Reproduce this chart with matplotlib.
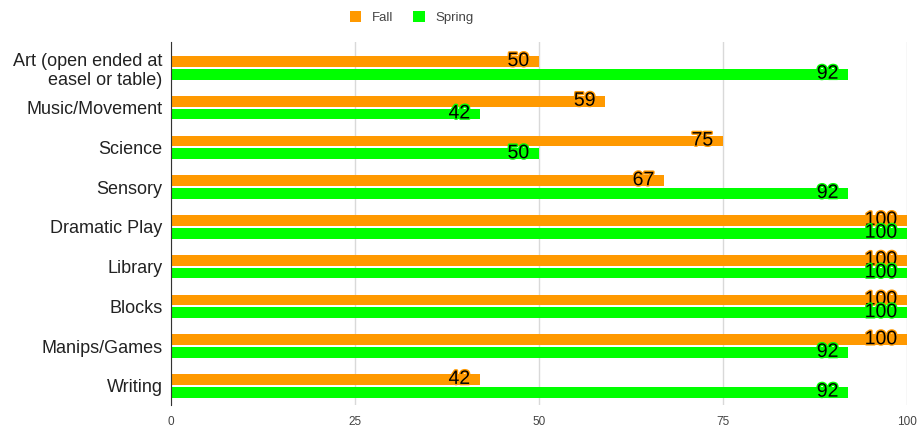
import matplotlib.pyplot as plt
import matplotlib.patheffects as pe
import numpy as np

plt.rcParams["font.family"] = ["Liberation Sans", "DejaVu Sans"]

CATEGORIES = ["Art (open ended at\neasel or table)", "Music/Movement", "Science",
              "Sensory", "Dramatic Play", "Library", "Blocks", "Manips/Games",
              "Writing"]
FALL = [50, 59, 75, 67, 100, 100, 100, 100, 42]
SPRING = [92, 42, 50, 92, 100, 100, 100, 92, 92]
FALL_COLOR = "#ff9900"
SPRING_COLOR = "#00ff00"

fig = plt.figure(figsize=(9.19, 4.33), dpi=100)
ax = fig.add_axes([0.186, 0.065, 0.801, 0.838])

y = np.arange(len(CATEGORIES))
off = 0.16
h = 0.27
bars_f = ax.barh(y - off, FALL, height=h, color=FALL_COLOR, label="Fall", zorder=2)
bars_s = ax.barh(y + off, SPRING, height=h, color=SPRING_COLOR, label="Spring", zorder=2)

# value labels sit inside the bar end, with a halo in the bar colour
for bars, vals, col in [(bars_f, FALL, FALL_COLOR), (bars_s, SPRING, SPRING_COLOR)]:
    for b, v in zip(bars, vals):
        ax.annotate(str(v), (v, b.get_y() + b.get_height() / 2),
                    xytext=(-7, 0), textcoords="offset points",
                    ha="right", va="center", fontsize=14, color="black", zorder=3,
                    path_effects=[pe.withStroke(linewidth=2, foreground=col)])

ax.set_xlim(0, 100)
ax.set_ylim(8.48, -0.65)
ax.set_yticks(y)
ax.set_yticklabels(CATEGORIES, fontsize=13, color="#222222")
ax.set_xticks([0, 25, 50, 75, 100])
ax.tick_params(axis="x", labelsize=8.5, colors="#444444", length=0, pad=8)
ax.tick_params(axis="y", length=0, pad=6)
ax.grid(axis="x", color="#d9d9d9", linewidth=1, zorder=0)
for s in ["top", "right", "bottom"]:
    ax.spines[s].set_visible(False)
ax.spines["left"].set_color("#333333")
ax.spines["left"].set_zorder(4)

fig.legend(handles=[bars_f, bars_s], loc="center", bbox_to_anchor=(0.448, 0.96),
           ncol=2, frameon=False, fontsize=9.5, handlelength=0.9, handleheight=0.9,
           columnspacing=1.5, labelcolor="#444444")

fig.savefig("out.png", dpi=100)
